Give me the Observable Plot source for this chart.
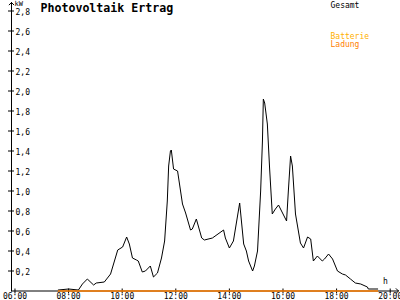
<!DOCTYPE html>
<html><head><meta charset="utf-8">
<script src="https://cdn.jsdelivr.net/npm/d3@7"></script>
<script src="https://cdn.jsdelivr.net/npm/@observablehq/plot@0.6"></script>
<style>body{margin:0;background:#fff} svg{display:block}</style>
</head><body><div id="chart"></div>
<script>
const times = ["07:37","08:00","08:22","08:31","08:42","08:56","09:02","09:20","09:34","09:50",
  "10:01","10:10","10:16","10:23","10:32","10:36","10:45","10:52","11:03","11:10",
  "11:19","11:28","11:35","11:41","11:44","11:48","11:50","11:55","12:04","12:15",
  "12:22","12:33","12:37","12:46","12:58","13:04","13:22","13:47","13:51","14:00",
  "14:09","14:23","14:32","14:38","14:43","14:52","14:56","15:03","15:10","15:14",
  "15:16","15:19","15:25","15:30","15:36","15:43","15:50","15:59","16:08","16:12",
  "16:17","16:21","16:28","16:39","16:46","16:55","17:02","17:08","17:17","17:28",
  "17:33","17:42","17:51","18:02","18:13","18:20","18:31","18:42","18:54","19:09",
  "19:11","19:32"];
const gesamt = [0.01,0.02,0.01,0.07,0.12,0.06,0.08,0.09,0.17,0.41,
  0.44,0.54,0.47,0.33,0.31,0.30,0.19,0.20,0.25,0.14,
  0.18,0.33,0.50,0.90,1.25,1.40,1.41,1.22,1.20,0.87,
  0.78,0.61,0.62,0.72,0.53,0.51,0.53,0.61,0.53,0.43,
  0.50,0.88,0.47,0.40,0.30,0.20,0.25,0.40,1.00,1.50,
  1.92,1.88,1.67,1.23,0.77,0.82,0.86,0.78,0.70,1.00,
  1.35,1.25,0.77,0.48,0.43,0.54,0.52,0.30,0.35,0.30,
  0.32,0.37,0.32,0.20,0.17,0.16,0.12,0.08,0.07,0.04,
  0.02,0.02];
const ladungTimes = ["07:37","19:32"];
const ladung = [0, 0];
const yTicks = [0.2,0.4,0.6,0.8,1.0,1.2,1.4,1.6,1.8,2.0,2.2,2.4,2.6,2.8];
const xTicks = [6,8,10,12,14,16,18,20];
const xTickLabels = ["06:00","08:00","10:00","12:00","14:00","16:00","18:00","20:00"];
const xAxisRange = [5.87, 20.31];
const yAxisRange = [0, 2.885];

const toH = s => { const [h, m] = s.split(":").map(Number); return h + m / 60; };
const gData = times.map((t, i) => ({x: toH(t), y: gesamt[i]}));
const lData = ladungTimes.map((t, i) => ({x: toH(t), y: ladung[i]}));
const mono = "DejaVu Sans Mono";

const chart = Plot.plot({
  width: 400, height: 300,
  marginLeft: 11, marginRight: 2, marginTop: 2, marginBottom: 9.5,
  style: {fontFamily: mono, fontSize: "8px", background: "#fff", color: "#000"},
  x: {domain: xAxisRange},
  y: {domain: yAxisRange},
  marks: [
    Plot.axisY(yTicks, {anchor: "left", tickSize: 6, dx: 3, fill: "none", stroke: "#000", label: null}),
    Plot.axisY(yTicks, {anchor: "left", tickSize: 0, tickPadding: 0, dx: 4, dy: 1, textAnchor: "start",
      tickFormat: d => d.toFixed(1).replace(".", ","), fill: "#000", label: null}),
    Plot.axisX(xTicks, {anchor: "bottom", tickSize: 5, dy: -2, fill: "none", stroke: "#000", label: null}),
    Plot.axisX(xTicks, {anchor: "bottom", tickSize: 0, tickPadding: 2,
      tickFormat: d => xTickLabels[xTicks.indexOf(d)], fill: "#000", label: null}),
    Plot.arrow([0], {x1: xAxisRange[0], y1: 0, x2: xAxisRange[1], y2: 0, stroke: "#000", strokeWidth: 1, headLength: 5, headAngle: 90}),
    Plot.arrow([0], {x1: xAxisRange[0], y1: 0, x2: xAxisRange[0], y2: yAxisRange[1], stroke: "#000", strokeWidth: 1, headLength: 5, headAngle: 90}),
    Plot.line(gData, {x: "x", y: "y", stroke: "#000", strokeWidth: 1}),
    Plot.line(lData, {x: "x", y: "y", stroke: "#ff8000", strokeWidth: 1.3}),
    Plot.text(["Photovoltaik Ertrag"], {frameAnchor: "top-left", dx: 29, dy: 1, lineAnchor: "top", textAnchor: "start",
      fontWeight: "bold", fontSize: 11.6, fill: "#000"}),
    Plot.text(["kW"], {frameAnchor: "top-left", dx: 3, dy: -1, lineAnchor: "top", textAnchor: "start", fontSize: 7, fill: "#000"}),
    Plot.text(["Gesamt"], {frameAnchor: "top-left", dx: 319, dy: 0, lineAnchor: "top", textAnchor: "start", fill: "#000"}),
    Plot.text(["Batterie"], {frameAnchor: "top-left", dx: 319, dy: 31, lineAnchor: "top", textAnchor: "start", fill: "#ffb000"}),
    Plot.text(["Ladung"], {frameAnchor: "top-left", dx: 319, dy: 39, lineAnchor: "top", textAnchor: "start", fill: "#ff8000"}),
    Plot.text(["h"], {frameAnchor: "bottom-right", dx: -13, dy: -7, lineAnchor: "bottom", textAnchor: "middle", fill: "#000"})
  ]
});
document.getElementById("chart").append(chart);
</script>
</body></html>
